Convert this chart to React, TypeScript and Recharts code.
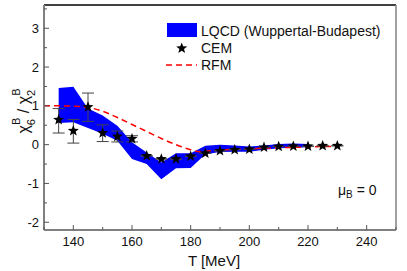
import React from 'react';
import {
  ComposedChart,
  Area,
  Line,
  Scatter,
  ErrorBar,
  XAxis,
  YAxis,
} from 'recharts';

// LQCD band (Wuppertal-Budapest)
const bandT = [135, 140, 145, 150, 155, 160, 165, 170, 175, 180, 185, 190, 195, 200, 205, 210, 215, 220];
const bandHigh = [1.46, 1.49, 0.93, 0.75, 0.49, 0.06, -0.2, -0.46, -0.22, -0.22, -0.03, 0.0, -0.02, -0.05, -0.02, 0.02, 0.03, 0.02];
const bandLow = [0.56, 0.58, 0.43, 0.28, 0.1, -0.37, -0.5, -0.89, -0.61, -0.6, -0.25, -0.19, -0.18, -0.18, -0.13, -0.09, -0.08, -0.07];

// CEM points
const cemT = [135, 140, 145, 150, 155, 160, 165, 170, 175, 180, 185, 190, 195, 200, 205, 210, 215, 220, 225, 230];
const cemY = [0.64, 0.36, 0.97, 0.3, 0.21, 0.15, -0.29, -0.37, -0.37, -0.3, -0.22, -0.16, -0.13, -0.12, -0.07, -0.05, -0.04, -0.04, -0.03, -0.03];
const cemErrDown = [0.34, 0.32, 0.37, 0.22, 0.14, 0.08, 0, 0, 0, 0, 0, 0, 0, 0, 0, 0, 0, 0, 0, 0];
const cemErrUp = [0.29, 0.29, 0.36, 0.21, 0.14, 0.08, 0, 0, 0, 0, 0, 0, 0, 0, 0, 0, 0, 0, 0, 0];

// RFM curve
const rfmT = [130, 135, 140, 145, 150, 155, 160, 165, 170, 175, 180, 183, 185, 190, 195, 200, 205, 210, 215, 220, 225, 230];
const rfmY = [1.0, 1.0, 0.99, 0.96, 0.86, 0.7, 0.52, 0.34, 0.16, 0.0, -0.13, -0.18, -0.17, -0.14, -0.12, -0.11, -0.09, -0.08, -0.07, -0.06, -0.05, -0.05];

const xTicks = [130, 140, 150, 160, 170, 180, 190, 200, 210, 220, 230, 240, 250];
const xLabels = [140, 160, 180, 200, 220, 240];
const yTicks = [-2, -1.5, -1, -0.5, 0, 0.5, 1, 1.5, 2, 2.5, 3, 3.5];
const yLabels = [-2, -1, 0, 1, 2, 3];

const bandData = bandT.map((T, i) => ({ T, range: [bandLow[i], bandHigh[i]] }));
const cemData = cemT.map((T, i) => ({ T, v: cemY[i], err: [cemErrDown[i], cemErrUp[i]] }));
const rfmData = rfmT.map((T, i) => ({ T, rfm: rfmY[i] }));

const W = 407;
const H = 271;
const P = { left: 44, right: 396, top: 5, bottom: 230 };
const FONT = '"Liberation Sans", Arial, sans-serif';
const TICK = '#555';

function starPoints(cx: number, cy: number, r: number) {
  const pts: string[] = [];
  for (let i = 0; i < 10; i++) {
    const rr = i % 2 === 0 ? r : r * 0.42;
    const a = -Math.PI / 2 + (i * Math.PI) / 5;
    pts.push(`${cx + rr * Math.cos(a)},${cy + rr * Math.sin(a)}`);
  }
  return pts.join(' ');
}

const Star = (props: any) => {
  const { cx, cy } = props;
  if (cx == null || cy == null) return null;
  return <polygon points={starPoints(cx, cy, 5.8)} fill="#000" />;
};

const BottomTick = ({ x, payload }: any) => {
  const major = xLabels.includes(payload.value);
  return (
    <g>
      <line x1={x} x2={x} y1={P.bottom} y2={P.bottom - (major ? 5 : 3)} stroke={TICK} />
      {major && (
        <text x={x} y={246} textAnchor="middle" fontSize={13} fontFamily={FONT} fill="#111">
          {payload.value}
        </text>
      )}
    </g>
  );
};

const TopTick = ({ x, payload }: any) => {
  const major = xLabels.includes(payload.value);
  return <line x1={x} x2={x} y1={P.top} y2={P.top + (major ? 5 : 3)} stroke={TICK} />;
};

const LeftTick = ({ y, payload }: any) => {
  const major = yLabels.includes(payload.value);
  return (
    <g>
      <line x1={P.left} x2={P.left + (major ? 5 : 3)} y1={y} y2={y} stroke={TICK} />
      {major && (
        <text x={39} y={y + 4.5} textAnchor="end" fontSize={13} fontFamily={FONT} fill="#111">
          {payload.value}
        </text>
      )}
    </g>
  );
};

const RightTick = ({ y, payload }: any) => {
  const major = yLabels.includes(payload.value);
  return <line x1={P.right} x2={P.right - (major ? 5 : 3)} y1={y} y2={y} stroke={TICK} />;
};

export default function App() {
  return (
    <div style={{ position: 'absolute', left: 0, top: 0, width: W, height: H, background: '#fff' }}>
      <ComposedChart width={W} height={H} margin={{ top: 0, right: 0, bottom: 0, left: 0 }}>
        <XAxis
          dataKey="T"
          type="number"
          domain={[130, 250]}
          ticks={xTicks}
          interval={0}
          height={41}
          tickLine={false}
          tick={<BottomTick />}
          axisLine={{ stroke: '#808080', strokeWidth: 2 }}
        />
        <XAxis
          xAxisId="top"
          orientation="top"
          type="number"
          domain={[130, 250]}
          ticks={xTicks}
          interval={0}
          height={5}
          tickLine={false}
          tick={<TopTick />}
          axisLine={{ stroke: '#000', strokeWidth: 1.5 }}
        />
        <YAxis
          type="number"
          domain={[-2.2, 3.6]}
          ticks={yTicks}
          interval={0}
          width={44}
          tickLine={false}
          tick={<LeftTick />}
          axisLine={{ stroke: '#808080', strokeWidth: 2 }}
        />
        <YAxis
          yAxisId="right"
          orientation="right"
          type="number"
          domain={[-2.2, 3.6]}
          ticks={yTicks}
          interval={0}
          width={11}
          tickLine={false}
          tick={<RightTick />}
          axisLine={{ stroke: '#808080', strokeWidth: 1.5 }}
        />
        <Area
          data={bandData}
          dataKey="range"
          type="linear"
          fill="#0000ff"
          fillOpacity={1}
          stroke="none"
          isAnimationActive={false}
        />
        <Line
          data={rfmData}
          dataKey="rfm"
          type="monotone"
          stroke="#ff0000"
          strokeWidth={1.5}
          strokeDasharray="6 4"
          dot={false}
          isAnimationActive={false}
        />
        <Scatter data={cemData} dataKey="v" shape={<Star />} isAnimationActive={false}>
          <ErrorBar dataKey="err" direction="y" width={6} stroke="#444" strokeWidth={1} />
        </Scatter>
      </ComposedChart>

      <svg
        width={W}
        height={H}
        style={{ position: 'absolute', left: 0, top: 0, pointerEvents: 'none' }}
        fontFamily={FONT}
      >
        {/* legend */}
        <rect x={167} y={23} width={30} height={14} fill="#0000ff" />
        <text x={201} y={36} fontSize={14} fill="#111">LQCD (Wuppertal-Budapest)</text>
        <polygon points={starPoints(181.7, 48.3, 5.8)} fill="#000" />
        <text x={201} y={53} fontSize={14} fill="#111">CEM</text>
        <line x1={166} x2={197} y1={65} y2={65} stroke="#ff0000" strokeWidth={1.5} strokeDasharray="6 4" />
        <text x={201} y={70} fontSize={14} fill="#111">RFM</text>

        <text x={338} y={195} fontSize={14} fill="#111">
          μ<tspan fontSize={10} dy={3}>B</tspan>
          <tspan fontSize={14} dy={-3}> = 0</tspan>
        </text>

        <text x={214} y={266} fontSize={15} textAnchor="middle" fill="#111">T [MeV]</text>

        <text transform="translate(29,111) rotate(-90)" textAnchor="middle" fontSize={16} fill="#111">
          <tspan>χ</tspan>
          <tspan fontSize={11} dy={6}>6</tspan>
          <tspan fontSize={11} dx={-6} dy={-15}>B</tspan>
          <tspan dy={9}> / χ</tspan>
          <tspan fontSize={11} dy={6}>2</tspan>
          <tspan fontSize={11} dx={-6} dy={-15}>B</tspan>
        </text>
      </svg>
    </div>
  );
}
